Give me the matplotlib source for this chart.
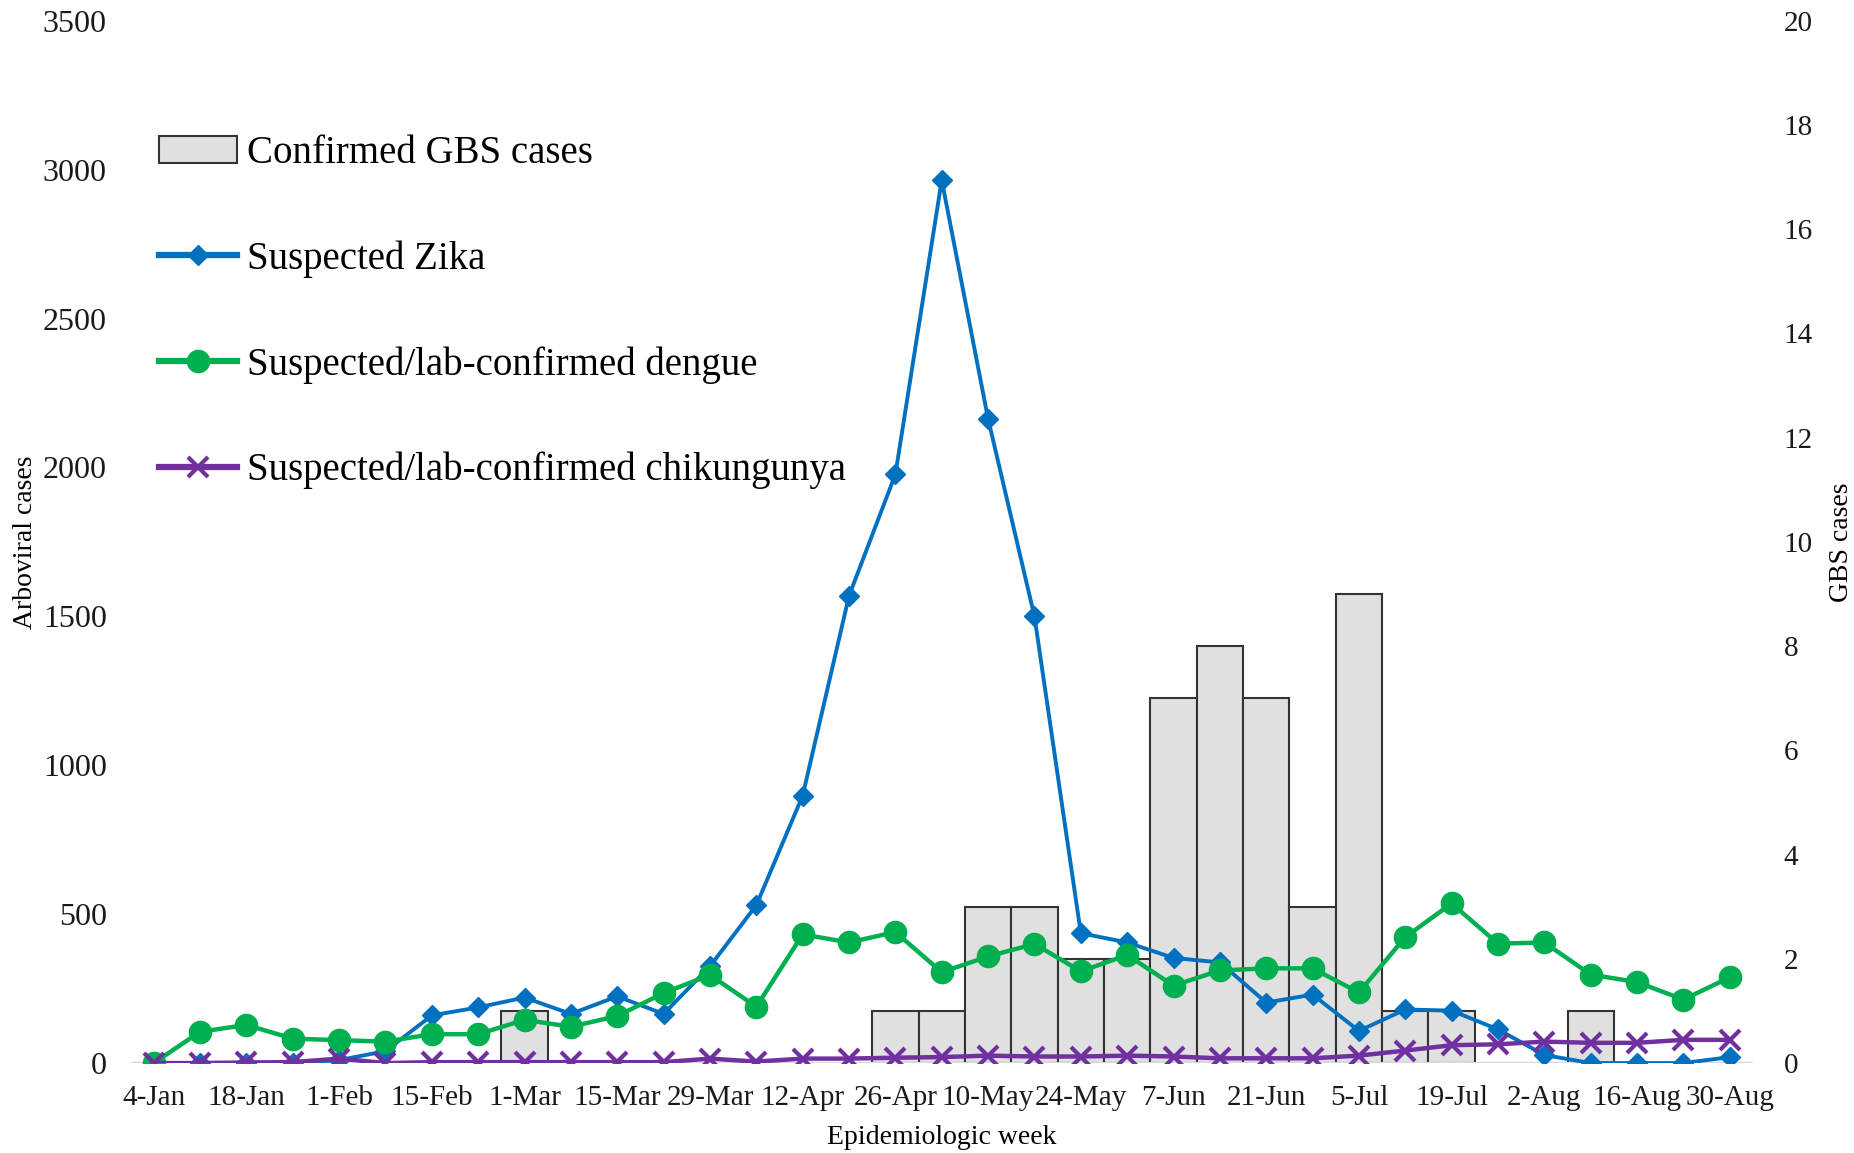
import numpy as np
import matplotlib
matplotlib.use("Agg")
from matplotlib import pyplot as plt

plt.rcParams['font.family'] = ['Liberation Serif', 'DejaVu Serif']

week_labels = ['4-Jan', '11-Jan', '18-Jan', '25-Jan', '1-Feb', '8-Feb', '15-Feb', '22-Feb',
               '1-Mar', '8-Mar', '15-Mar', '22-Mar', '29-Mar', '5-Apr', '12-Apr', '19-Apr',
               '26-Apr', '3-May', '10-May', '17-May', '24-May', '31-May', '7-Jun', '14-Jun',
               '21-Jun', '28-Jun', '5-Jul', '12-Jul', '19-Jul', '26-Jul', '2-Aug', '9-Aug',
               '16-Aug', '23-Aug', '30-Aug']

# weekly counts
gbs = [0, 0, 0, 0, 0, 0, 0, 0, 1, 0, 0, 0, 0, 0, 0, 0, 1, 1, 3, 3, 2, 2, 7, 8, 7, 3, 9, 1, 1,
       0, 0, 1, 0, 0, 0]
zika = [0, 0, 0, 0, 10, 40, 160, 187, 220, 165, 224, 165, 325, 530, 898, 1569, 1977, 2965,
        2163, 1500, 436, 405, 353, 338, 203, 230, 108, 180, 176, 113, 27, 0, 0, 0, 20]
dengue = [0, 105, 128, 82, 77, 72, 97, 97, 145, 122, 158, 235, 296, 189, 432, 405, 440, 305,
          358, 400, 308, 363, 260, 311, 318, 318, 237, 423, 536, 401, 405, 297, 272, 213, 288]
chik = [0, 0, 2, 3, 15, 0, 3, 3, 3, 3, 3, 3, 15, 5, 15, 15, 18, 20, 25, 22, 22, 25, 22, 16,
        16, 16, 25, 42, 60, 63, 72, 68, 68, 78, 78]

x = np.arange(len(week_labels))

fig = plt.figure(figsize=(18.54, 11.53), dpi=100)
ax = fig.add_axes([0.0704, 0.078, 0.8751, 0.904])
ax2 = ax.twinx()

# GBS bars go on the right axis, behind the lines
bars = ax2.bar(x, gbs, width=1.0, color='#e0e0e0', edgecolor='#333333', linewidth=1.5,
               label='Confirmed GBS cases')
ax.set_zorder(ax2.get_zorder() + 1)
ax.patch.set_visible(False)

l1, = ax.plot(x, zika, color='#0070c0', lw=2.8, marker='D', ms=10, label='Suspected Zika')
l2, = ax.plot(x, dengue, color='#00b050', lw=3.2, marker='o', ms=16,
              label='Suspected/lab-confirmed dengue')
l3, = ax.plot(x, chik, color='#7030a0', lw=3.2, marker='x', ms=15, mew=3,
              label='Suspected/lab-confirmed chikungunya')
ax.axhline(0, color='#d9d9d9', lw=1.5, zorder=0)

ax.set_xlim(-0.5, len(x) - 0.5)
ax.set_ylim(0, 3500)
ax2.set_ylim(0, 20)
ax.set_yticks(np.arange(0, 3501, 500))
ax2.set_yticks(np.arange(0, 21, 2))
ax.set_xticks(x[::2])
ax.set_xticklabels(week_labels[::2])

for a in (ax, ax2):
    for s in a.spines.values():
        s.set_visible(False)
    a.tick_params(length=0, labelsize=21, colors='#1a1a1a')
ax.tick_params(axis='x', pad=16)
ax.tick_params(axis='y', pad=17, labelsize=23)
ax2.tick_params(axis='y', pad=22)

ax.set_ylabel('Arboviral cases', fontsize=20)
ax.yaxis.set_label_coords(-0.057, 0.5)
ax2.set_ylabel('GBS cases', fontsize=20, labelpad=12)
ax.set_xlabel('Epidemiologic week', fontsize=20, labelpad=10)

leg = ax.legend([bars, l1, l2, l3], [h.get_label() for h in (bars, l1, l2, l3)],
                loc='upper left', bbox_to_anchor=(0.008, 0.905), frameon=False,
                fontsize=28, labelspacing=1.75, handlelength=2.0, handletextpad=0.25,
                borderaxespad=0)
for h in leg.legend_handles[1:]:
    h.set_linewidth(4.5)

fig.savefig('out.png', dpi=100)
